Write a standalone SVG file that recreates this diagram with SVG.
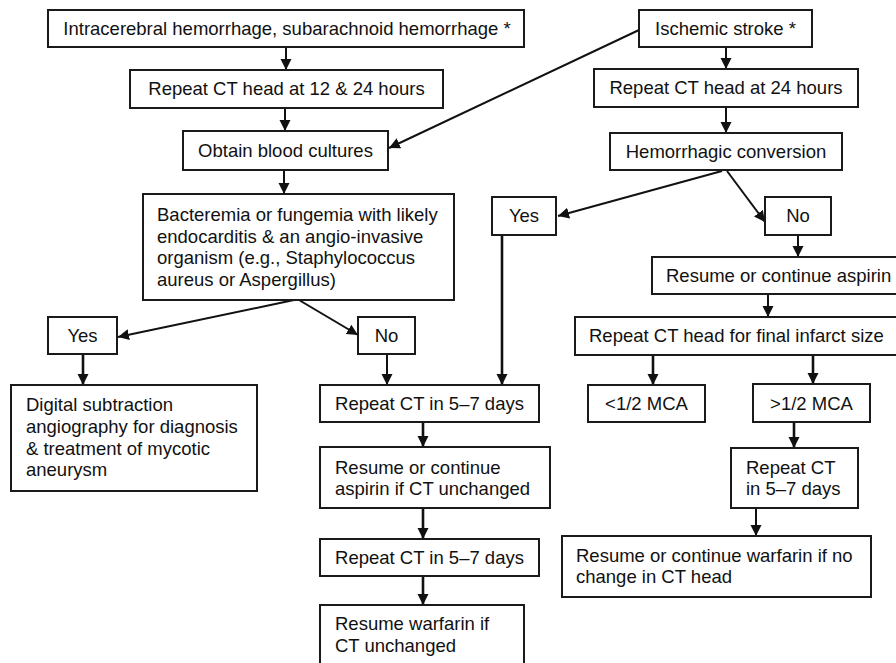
<svg xmlns="http://www.w3.org/2000/svg" width="896" height="663" viewBox="0 0 896 663">
<defs>
<marker id="ah" markerUnits="userSpaceOnUse" markerWidth="12" markerHeight="12" refX="11" refY="6" orient="auto">
<path d="M0,0.5 L11,6 L0,11.5 z" fill="#111"/>
</marker>
<style>
.b{fill:#fff;stroke:#1a1a1a;stroke-width:2}
.t{font-family:"Liberation Sans",Arial,sans-serif;font-size:18.5px;fill:#111}
.c{text-anchor:middle}
.e{stroke:#111;stroke-width:2;fill:none;marker-end:url(#ah)}
.w{stroke-width:2.6}
</style>
</defs>
<rect width="896" height="663" fill="#fff"/>
<g id="connectors">
<path class="e" d="M286,47 L286,70"/>
<path class="e" d="M285,108 L285,131"/>
<path class="e" d="M639,30 L389,148"/>
<path class="e" d="M284,170 L284,194"/>
<path class="e" d="M726,47 L726,69"/>
<path class="e" d="M726,107 L726,133"/>
<path class="e" d="M722,171 L558,216"/>
<path class="e" d="M727,171 L765,222"/>
<path class="e" d="M798,235 L798,257"/>
<path class="e" d="M768,294 L768,317"/>
<path class="e w" d="M653,355 L653,385"/>
<path class="e w" d="M813,355 L813,384"/>
<path class="e w" d="M794,422 L794,448"/>
<path class="e" d="M756,508 L756,536"/>
<path class="e w" d="M502,235 L502,385"/>
<path class="e" d="M294,300 L118,337"/>
<path class="e" d="M299,300 L358,335"/>
<path class="e w" d="M83,354 L83,385"/>
<path class="e" d="M387,354 L387,385"/>
<path class="e w" d="M423,422 L423,447"/>
<path class="e w" d="M423,508 L423,539"/>
<path class="e w" d="M423,576 L423,605"/>
</g>
<g id="ich"><rect class="b" x="48" y="10" width="476" height="37"/><text class="t c" x="287" y="35">Intracerebral hemorrhage, subarachnoid hemorrhage *</text></g>
<g id="ct1224"><rect class="b" x="130" y="70" width="313" height="38"/><text class="t c" x="286.5" y="95">Repeat CT head at 12 &amp; 24 hours</text></g>
<g id="cultures"><rect class="b" x="183" y="131" width="205" height="39"/><text class="t c" x="285.5" y="157">Obtain blood cultures</text></g>
<g id="ischemic"><rect class="b" x="639" y="10" width="173" height="37"/><text class="t c" x="725.5" y="35">Ischemic stroke *</text></g>
<g id="ct24"><rect class="b" x="594" y="69" width="264" height="38"/><text class="t c" x="726" y="94">Repeat CT head at 24 hours</text></g>
<g id="hemconv"><rect class="b" x="610" y="133" width="232" height="37"/><text class="t c" x="726" y="158">Hemorrhagic conversion</text></g>
<g id="bacteremia"><rect class="b" x="143" y="194" width="311" height="106"/>
<text class="t" x="157" y="221">Bacteremia or fungemia with likely</text>
<text class="t" x="157" y="243">endocarditis &amp; an angio-invasive</text>
<text class="t" x="157" y="264">organism (e.g., Staphylococcus</text>
<text class="t" x="157" y="286">aureus or Aspergillus)</text></g>
<g id="yes1"><rect class="b" x="48" y="317" width="69" height="37"/><text class="t c" x="82.5" y="342">Yes</text></g>
<g id="no1"><rect class="b" x="358" y="317" width="57" height="37"/><text class="t c" x="386.5" y="342">No</text></g>
<g id="yes2"><rect class="b" x="492" y="197" width="64" height="38"/><text class="t c" x="524" y="222">Yes</text></g>
<g id="no2"><rect class="b" x="765" y="197" width="66" height="38"/><text class="t c" x="798" y="222">No</text></g>
<g id="dsa"><rect class="b" x="11" y="385" width="246" height="106"/>
<text class="t" x="26" y="411">Digital subtraction</text>
<text class="t" x="26" y="433">angiography for diagnosis</text>
<text class="t" x="26" y="455">&amp; treatment of mycotic</text>
<text class="t" x="26" y="476">aneurysm</text></g>
<g id="repeat1"><rect class="b" x="320" y="385" width="219" height="37"/><text class="t c" x="429.5" y="410">Repeat CT in 5–7 days</text></g>
<g id="aspirin1"><rect class="b" x="320" y="447" width="230" height="61"/>
<text class="t" x="335" y="474">Resume or continue</text>
<text class="t" x="335" y="495">aspirin if CT unchanged</text></g>
<g id="repeat2"><rect class="b" x="320" y="539" width="219" height="37"/><text class="t c" x="429.5" y="564">Repeat CT in 5–7 days</text></g>
<g id="warfarin1"><rect class="b" x="320" y="605" width="204" height="70"/>
<text class="t" x="335" y="630">Resume warfarin if</text>
<text class="t" x="335" y="652">CT unchanged</text></g>
<g id="aspirin2"><rect class="b" x="652" y="257" width="260" height="37"/><text class="t" x="666" y="282">Resume or continue aspirin</text></g>
<g id="final"><rect class="b" x="575" y="317" width="340" height="38"/><text class="t" x="589" y="342">Repeat CT head for final infarct size</text></g>
<g id="lt"><rect class="b" x="588" y="385" width="117" height="37"/><text class="t c" x="646.5" y="410">&lt;1/2 MCA</text></g>
<g id="gt"><rect class="b" x="753" y="384" width="117" height="38"/><text class="t c" x="811.5" y="410">&gt;1/2 MCA</text></g>
<g id="repeat3"><rect class="b" x="731" y="448" width="127" height="60"/>
<text class="t" x="746" y="474">Repeat CT</text>
<text class="t" x="746" y="495">in 5–7 days</text></g>
<g id="warfarin2"><rect class="b" x="562" y="536" width="309" height="61"/>
<text class="t" x="576" y="562">Resume or continue warfarin if no</text>
<text class="t" x="576" y="583">change in CT head</text></g>
</svg>
